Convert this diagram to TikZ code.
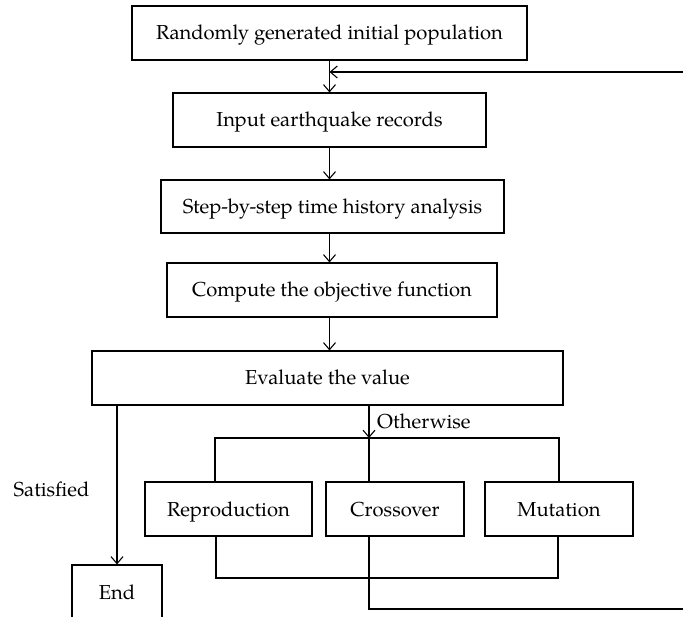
\documentclass[tikz,border=0pt]{standalone}
\usepackage{fontspec}
\setmainfont{TeX Gyre Pagella}
\usetikzlibrary{arrows.meta}
\tikzset{
  box/.style={draw, line width=1.1pt, rectangle, inner sep=0pt, text height=14pt, text depth=0pt, font=\fontsize{20.2}{23}\selectfont},
  conn/.style={line width=1.1pt},
  arr/.style={line width=1.1pt, -{Straight Barb[length=7pt,width=12pt,line width=1.1pt]}},
  lbl/.style={font=\fontsize{20.2}{23}\selectfont, inner sep=0pt}
}
\begin{document}
\begin{tikzpicture}[x=1pt,y=-1pt]
\useasboundingbox (0,0) rectangle (683,617);
\begin{scope}
\clip (0,0) rectangle (683,617);
\node[box, minimum width=395pt, minimum height=54pt] (b1) at (329.5,33) {Randomly generated initial population\hspace{5pt}};
\node[box, minimum width=313pt, minimum height=54pt] (b2) at (329.5,120) {Input earthquake records};
\node[box, minimum width=343pt, minimum height=53pt] (b3) at (332.5,206.5) {Step-by-step time history analysis\hspace{10pt}};
\node[box, minimum width=330pt, minimum height=54pt] (b4) at (332,290) {Compute the objective function\hspace{10pt}};
\node[box, minimum width=471pt, minimum height=54pt] (b5) at (327.5,378) {Evaluate the value\hspace{4pt}};
\node[box, minimum width=167pt, minimum height=54pt] (rep) at (228.5,509) {Reproduction};
\node[box, minimum width=138pt, minimum height=54pt] (cro) at (395,509) {Crossover\hspace{4pt}};
\node[box, minimum width=148pt, minimum height=54pt] (mut) at (559,509) {Mutation};
\node[box, minimum width=90pt, minimum height=54pt] (end) at (117,592) {End};

\coordinate (fb) at (683,72);
\coordinate (split) at (369,438);
\coordinate (lowj) at (216,578);
\coordinate (out) at (683,609);

\draw[arr] (b1.south) -- (b2.north);
\draw[arr] (fb) -- (b1.south |- fb);
\draw[arr] (b2.south) -- (b2.south |- b3.north);
\draw[arr] (b2.south |- b3.south) -- (b2.south |- b4.north);
\draw[arr] (b4.south -| b1.south) -- (b1.south |- b5.north);
\draw[arr] (end.north |- b5.south) -- (end.north);
\draw[arr] (split |- b5.south) -- (split);
\draw[conn] (215,482) |- (559,438) -- (559,482);
\draw[conn] (split) -- (split |- cro.north);
\draw[conn] (lowj |- rep.south) -- (lowj) -- (558,578) -- (558,536);
\draw[conn] (split |- cro.south) |- (out);

\node[lbl, anchor=west] (oth) at (377,421) {Otherwise};
\node[lbl] (sat) at (51.5,489) {Satisfied};
\end{scope}
\end{tikzpicture}
\end{document}
